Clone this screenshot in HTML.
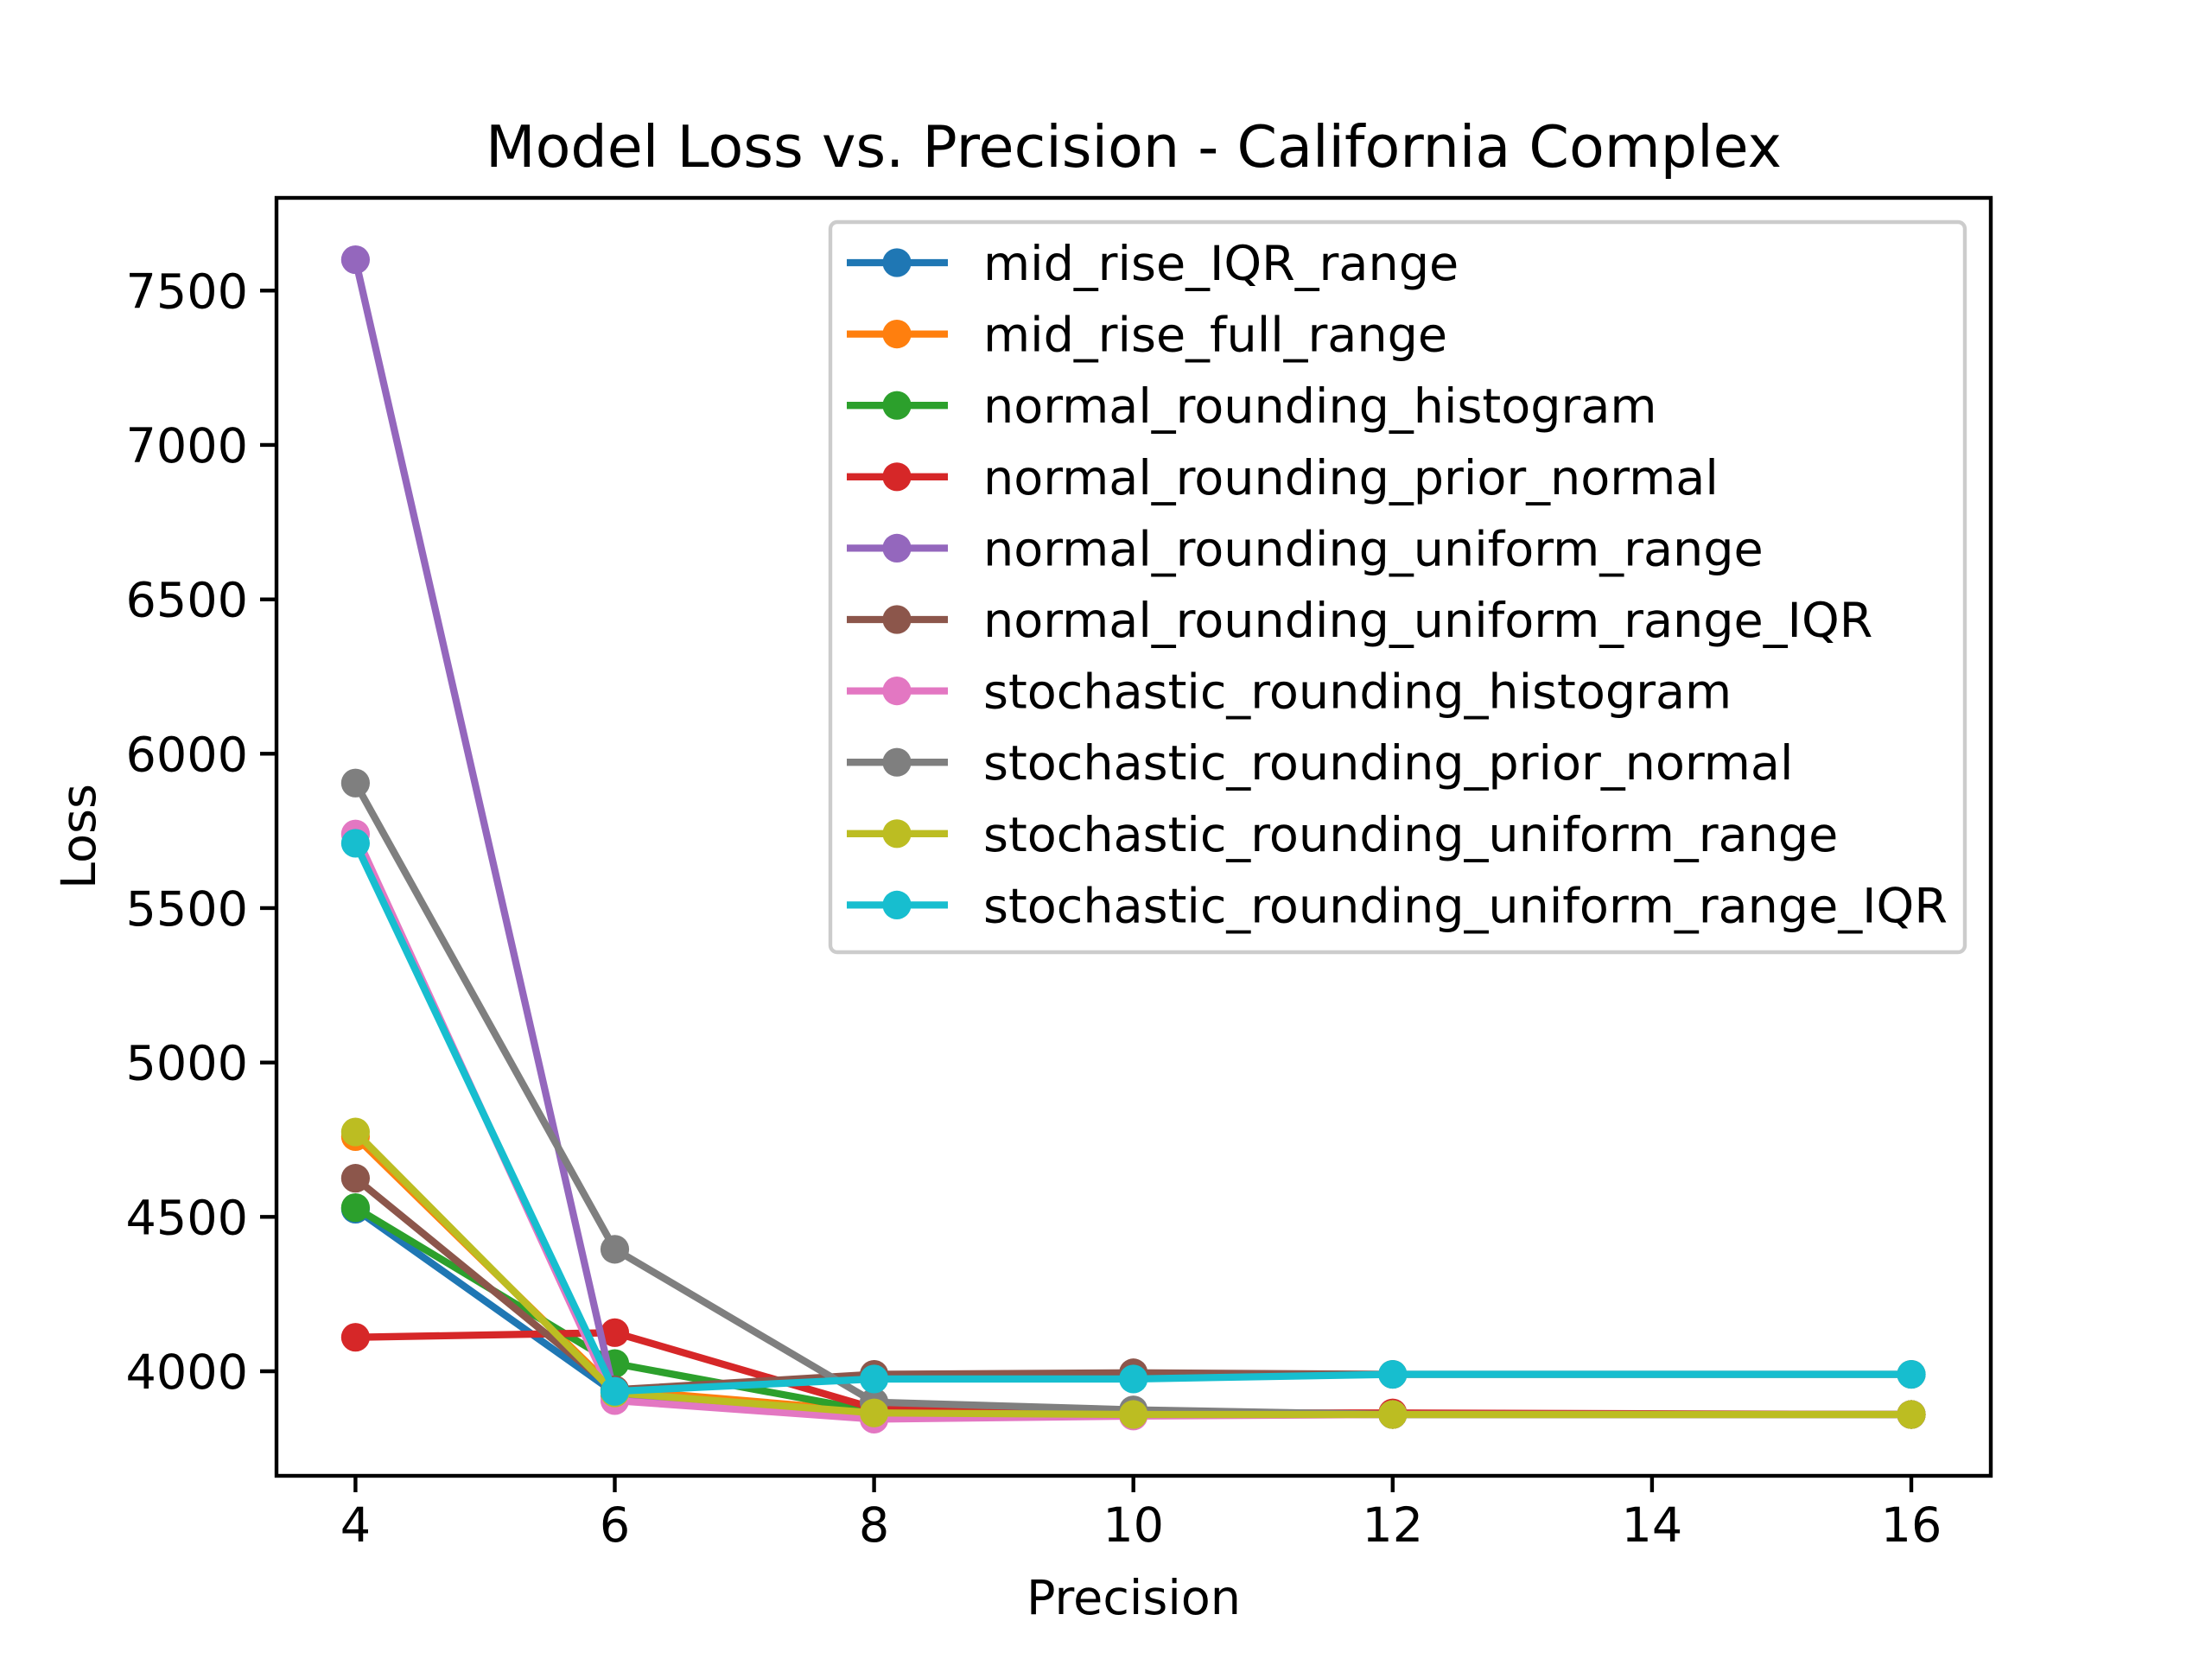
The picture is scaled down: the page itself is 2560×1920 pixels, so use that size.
<!DOCTYPE html>
<html><head><meta charset="utf-8"><style>body{margin:0;background:#fff}svg{display:block}text{font-family:"DejaVu Sans","Liberation Sans",sans-serif;fill:#000}</style></head>
<body>
<svg id="chart" width="2560" height="1920" viewBox="0 0 2560 1920" xmlns="http://www.w3.org/2000/svg">
<rect width="2560" height="1920" fill="#fff"/>
<g id="plot"></g>
</svg>
<script>
const xValues = [4, 6, 8, 10, 12, 16];
const xTicks = [4, 6, 8, 10, 12, 14, 16];
const yTicks = [4000, 4500, 5000, 5500, 6000, 6500, 7000, 7500];
const seriesNames = ["mid_rise_IQR_range","mid_rise_full_range","normal_rounding_histogram","normal_rounding_prior_normal","normal_rounding_uniform_range","normal_rounding_uniform_range_IQR","stochastic_rounding_histogram","stochastic_rounding_prior_normal","stochastic_rounding_uniform_range","stochastic_rounding_uniform_range_IQR"];
const colors = ["#1f77b4","#ff7f0e","#2ca02c","#d62728","#9467bd","#8c564b","#e377c2","#7f7f7f","#bcbd22","#17becf"];
const s0 = [4525, 3930, 3870, 3860, 3860, 3860];
const s1 = [4760, 3940, 3870, 3860, 3860, 3860];
const s2 = [4530, 4025, 3870, 3860, 3860, 3860];
const s3 = [4110, 4125, 3880, 3865, 3865, 3860];
const s4 = [7600, 3920, 3860, 3860, 3860, 3860];
const s5 = [4625, 3940, 3990, 3995, 3990, 3990];
const s6 = [5740, 3905, 3845, 3855, 3860, 3860];
const s7 = [5905, 4395, 3900, 3875, 3860, 3860];
const s8 = [4775, 3930, 3865, 3860, 3860, 3860];
const s9 = [5710, 3935, 3975, 3975, 3990, 3990];
const series = [s0,s1,s2,s3,s4,s5,s6,s7,s8,s9];

const NS = "http://www.w3.org/2000/svg";
const L=320,R=2304,T=229,B=1708;
function xs(v){return 411.4+(v-4)*(2212-411.4)/12;}
function ys(v){return 1587-(v-4000)*(1587-336.3)/3500;}
const g=document.getElementById('plot');
function mk(t,a,p){const e=document.createElementNS(NS,t);for(const k in a)e.setAttribute(k,a[k]);(p||g).appendChild(e);return e;}

const frame=mk('rect',{x:L,y:T,width:R-L,height:B-T,fill:'none',stroke:'#000','stroke-width':4.4});



xTicks.forEach(t=>{
  const x=xs(t);
  mk('line',{x1:x,y1:B,x2:x,y2:B+19,stroke:'#000','stroke-width':4.4});
  const tx=mk('text',{x:x,y:B+76,'font-size':55.6,'text-anchor':'middle'});
  tx.textContent=t;
  
  
});
yTicks.forEach(t=>{
  const y=ys(t);
  mk('line',{x1:L,y1:y,x2:L-19,y2:y,stroke:'#000','stroke-width':4.4});
  const tx=mk('text',{x:L-33,y:y+20,'font-size':55.6,'text-anchor':'end'});
  tx.textContent=t;
  
  
});

series.forEach((s,i)=>{
  const grp=mk('g',{});
  
  
  mk('polyline',{points:s.map((v,j)=>xs(xValues[j])+','+ys(v)).join(' '),fill:'none',stroke:colors[i],'stroke-width':8.3,'stroke-linejoin':'round'},grp);
  s.forEach((v,j)=>{
    const c=mk('circle',{cx:xs(xValues[j]),cy:ys(v),r:16.6,fill:colors[i]},grp);
    
    
  });
});

const title=mk('text',{x:1312,y:193,'font-size':66.7,'text-anchor':'middle'});
title.textContent='Model Loss vs. Precision - California Complex';


const xl=mk('text',{x:1312,y:1868,'font-size':55.6,'text-anchor':'middle'});
xl.textContent='Precision';


const yl=mk('text',{x:0,y:0,'font-size':55.6,'text-anchor':'middle',transform:'translate(110,968) rotate(-90)'});
yl.textContent='Loss';



const leg=mk('g',{});


mk('rect',{x:961,y:257,width:1313,height:845,rx:8,fill:'#fff','fill-opacity':0.8,stroke:'#ccc','stroke-width':4.4},leg);
seriesNames.forEach((n,i)=>{
  const y=304+i*82.6;
  const e=mk('g',{},leg);
  
  
  mk('line',{x1:980,y1:y,x2:1097,y2:y,stroke:colors[i],'stroke-width':8.3},e);
  mk('circle',{cx:1038,cy:y,r:16.6,fill:colors[i]},e);
  const t=mk('text',{x:1138,y:y+20,'font-size':55.6},e);
  t.textContent=n;
});
</script>
</body></html>
